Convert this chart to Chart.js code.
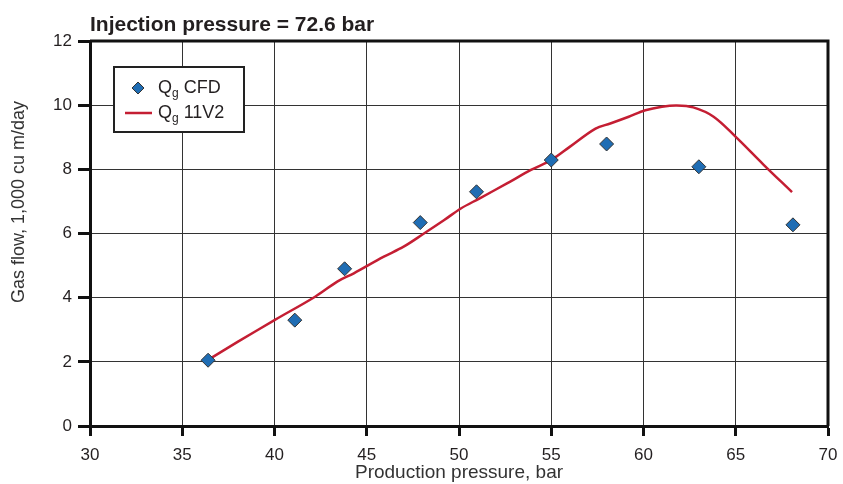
<!DOCTYPE html>
<html>
<head>
<meta charset="utf-8">
<script src="https://cdn.jsdelivr.net/npm/chart.js@4.4.1/dist/chart.umd.min.js"></script>
<style>
  html, body { margin: 0; padding: 0; background: #fff; }
  #wrap { width: 843px; height: 484px; position: relative; }
</style>
</head>
<body>
<div id="wrap"><canvas id="chart"></canvas></div>
<script>
// --- data ---
const chartTitle = 'Injection pressure = 72.6 bar';
const xLabel = 'Production pressure, bar';
const yLabel = 'Gas flow, 1,000 cu m/day';

const xMin = 30, xMax = 70, xStep = 5;
const yMin = 0, yMax = 12, yStep = 2;

// Q_g CFD (markers)
const cfdPressure = [36.4, 41.1, 43.8, 47.9, 50.95, 55.0, 58.0, 63.0, 68.1];
const cfdFlow     = [2.05, 3.30, 4.90, 6.34, 7.30, 8.29, 8.79, 8.08, 6.27];

// Q_g 11V2 (curve)
const modelPressure = [36.4, 38.0, 40.0, 42.2, 43.4, 44.3, 45.9, 47.0, 48.1, 49.2, 50.1, 51.1, 52.6, 53.9, 55.0, 56.0, 57.4, 58.2, 59.2, 60.1, 61.0, 61.8, 62.7, 63.8, 65.0, 66.5, 68.05];
const modelFlow     = [2.06, 2.62, 3.30, 4.03, 4.50, 4.76, 5.27, 5.59, 6.00, 6.42, 6.78, 7.09, 7.56, 7.98, 8.29, 8.70, 9.27, 9.43, 9.64, 9.84, 9.95, 9.99, 9.93, 9.64, 9.01, 8.15, 7.29];

const legendBase = ['Q', 'Q'];
const legendSub  = ['g', 'g'];
const legendRest = [' CFD', ' 11V2'];

const blue = '#1f6db4';
const red = '#c41e33';
const ink = '#231f20';
const font = '"Liberation Sans", Arial, Helvetica, sans-serif';

function toPoints(xs, ys) {
  return xs.map((x, i) => ({ x, y: ys[i] }));
}

// frame, title, rotated y label and the legend box with subscripts
const decorations = {
  id: 'decorations',
  afterDatasetsDraw(chart) {
    const { ctx, chartArea: a } = chart;
    ctx.save();

    // heavy top and right frame
    ctx.strokeStyle = '#111';
    ctx.lineWidth = 3;
    ctx.beginPath();
    ctx.moveTo(a.left, a.top);
    ctx.lineTo(a.right, a.top);
    ctx.lineTo(a.right, a.bottom);
    ctx.stroke();

    // title
    ctx.fillStyle = ink;
    ctx.font = 'bold 21px ' + font;
    ctx.textBaseline = 'alphabetic';
    ctx.textAlign = 'left';
    ctx.fillText(chartTitle, a.left, 31);

    // y axis label
    ctx.save();
    ctx.translate(19, 202);
    ctx.rotate(-Math.PI / 2);
    ctx.textAlign = 'center';
    ctx.textBaseline = 'middle';
    ctx.font = '18px ' + font;
    ctx.fillStyle = '#333';
    ctx.fillText(yLabel, 0, 0);
    ctx.restore();

    // legend
    const bx = a.left + 24, by = a.top + 26, bw = 130, bh = 65;
    ctx.fillStyle = '#fff';
    ctx.fillRect(bx, by, bw, bh);
    ctx.strokeStyle = '#222';
    ctx.lineWidth = 2;
    ctx.strokeRect(bx, by, bw, bh);

    const rows = [by + 21, by + 46];
    // marker
    const mx = bx + 24;
    ctx.beginPath();
    ctx.moveTo(mx, rows[0] - 6);
    ctx.lineTo(mx + 6, rows[0]);
    ctx.lineTo(mx, rows[0] + 6);
    ctx.lineTo(mx - 6, rows[0]);
    ctx.closePath();
    ctx.fillStyle = blue;
    ctx.fill();
    ctx.strokeStyle = '#333';
    ctx.lineWidth = 1;
    ctx.stroke();
    // line
    ctx.strokeStyle = red;
    ctx.lineWidth = 2.5;
    ctx.beginPath();
    ctx.moveTo(bx + 11, rows[1]);
    ctx.lineTo(bx + 38, rows[1]);
    ctx.stroke();

    ctx.fillStyle = ink;
    ctx.textBaseline = 'middle';
    rows.forEach((ry, i) => {
      let tx = bx + 44;
      ctx.font = '18px ' + font;
      ctx.fillText(legendBase[i], tx, ry);
      tx += ctx.measureText(legendBase[i]).width;
      ctx.font = '12px ' + font;
      ctx.fillText(legendSub[i], tx, ry + 6);
      tx += ctx.measureText(legendSub[i]).width;
      ctx.font = '18px ' + font;
      ctx.fillText(legendRest[i], tx, ry);
    });

    ctx.restore();
  }
};

new Chart(document.getElementById('chart'), {
  type: 'scatter',
  data: {
    datasets: [
      {
        label: 'Qg CFD',
        data: toPoints(cfdPressure, cfdFlow),
        pointStyle: 'rectRot',
        pointRadius: 7,
        pointHoverRadius: 7,
        backgroundColor: blue,
        borderColor: '#333',
        borderWidth: 1,
        showLine: false
      },
      {
        label: 'Qg 11V2',
        data: toPoints(modelPressure, modelFlow),
        showLine: true,
        borderColor: red,
        borderWidth: 2.5,
        pointRadius: 0,
        tension: 0.35,
        fill: false
      }
    ]
  },
  options: {
    responsive: true,
    maintainAspectRatio: false,
    animation: false,
    layout: { padding: { left: 0, right: 15, top: 41, bottom: 0 } },
    plugins: {
      legend: { display: false },
      tooltip: { enabled: false }
    },
    scales: {
      x: {
        min: xMin, max: xMax,
        ticks: { stepSize: xStep, font: { family: font, size: 17 }, color: ink, padding: 9 },
        grid: { color: '#333', lineWidth: 1, tickColor: '#111', tickWidth: 3, tickLength: 10 },
        border: { display: true, color: '#111', width: 3 },
        title: { display: true, text: xLabel, font: { family: font, size: 19 }, color: '#333', padding: { top: 0, bottom: 0 } },
        afterFit(scale) { scale.height = 58; scale.paddingRight = 0; scale.paddingLeft = 0; }
      },
      y: {
        min: yMin, max: yMax,
        ticks: { stepSize: yStep, font: { family: font, size: 17 }, color: ink, padding: 6 },
        grid: { color: '#333', lineWidth: 1, tickColor: '#111', tickWidth: 3, tickLength: 12 },
        border: { display: true, color: '#111', width: 3 },
        afterFit(scale) { scale.width = 90; }
      }
    }
  },
  plugins: [decorations]
});
</script>
</body>
</html>
